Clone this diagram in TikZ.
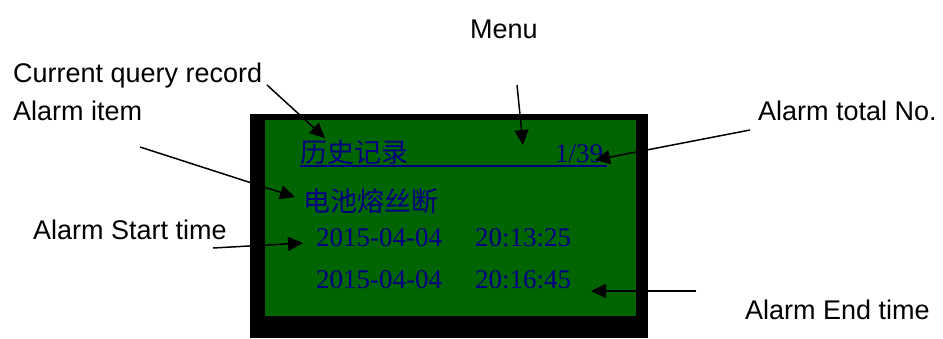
\documentclass[tikz,border=0pt]{standalone}
\usepackage{fontspec}
\setmainfont{Liberation Serif}
\newfontfamily\labfont{Liberation Sans}
\newfontfamily\cjk{Noto Sans CJK SC}
\usetikzlibrary{arrows.meta}
\definecolor{lcdgreen}{RGB}{0,100,0}
\definecolor{lcdtext}{RGB}{0,0,128}
\tikzset{
  lbl/.style={anchor=base west, inner sep=0pt, font=\labfont\fontsize{27}{30}\selectfont, text=black},
  lcdcn/.style={anchor=base west, inner sep=0pt, font=\cjk\fontsize{27}{30}\selectfont, text=lcdtext},
  lcdnum/.style={anchor=base west, inner sep=0pt, font=\fontsize{27}{30}\selectfont, text=lcdtext},
  callout/.style={line width=1.5pt, -{Triangle[length=15pt,width=14pt]}}
}
\begin{document}
\begin{tikzpicture}[x=1pt,y=-1pt]
\useasboundingbox (0,0) rectangle (943,338);
% LCD frame
\fill[black] (250,114) rectangle (648,338);
\fill[lcdgreen] (265,120) rectangle (636,316);
\draw[lcdtext, line width=1.5pt] (300,166) -- (607,166);
% LCD texts
\node[lcdcn] (title) at (300,162) {历史记录};
\node[lcdnum] (count) at (555,162) {1/39};
\node[lcdcn] (item) at (303,211) {电池熔丝断};
\node[lcdnum] (sdate) at (316,246) {2015-04-04};
\node[lcdnum] (stime) at (475,246) {20:13:25};
\node[lcdnum] (edate) at (316,288) {2015-04-04};
\node[lcdnum] (etime) at (475,288) {20:16:45};
% labels
\node[lbl] (menu) at (470,38) {Menu};
\node[lbl] (cqr) at (13,82) {Current query record};
\node[lbl] (aitem) at (13,120) {Alarm item};
\node[lbl] (atotal) at (758,120) {Alarm total No.};
\node[lbl] (astart) at (33,239) {Alarm Start time};
\node[lbl] (aend) at (745,319) {Alarm End time};
% arrow ends
\coordinate (c1s) at (267,85);   \coordinate (c1t) at (325,138);
\coordinate (c2s) at (517,85);   \coordinate (c2t) at (523,145);
\coordinate (c3s) at (750,130);  \coordinate (c3t) at (595,160);
\coordinate (c4s) at (140,147);  \coordinate (c4t) at (295,197);
\coordinate (c5s) at (213,248);  \coordinate (c5t) at (303,243);
\coordinate (c6s) at (696,291);  \coordinate (c6t) at (591,291);
\draw[callout] (c1s) -- (c1t);
\draw[callout] (c2s) -- (c2t);
\draw[callout] (c3s) -- (c3t);
\draw[callout] (c4s) -- (c4t);
\draw[callout] (c5s) -- (c5t);
\draw[callout] (c6s) -- (c6t);
\end{tikzpicture}
\end{document}
